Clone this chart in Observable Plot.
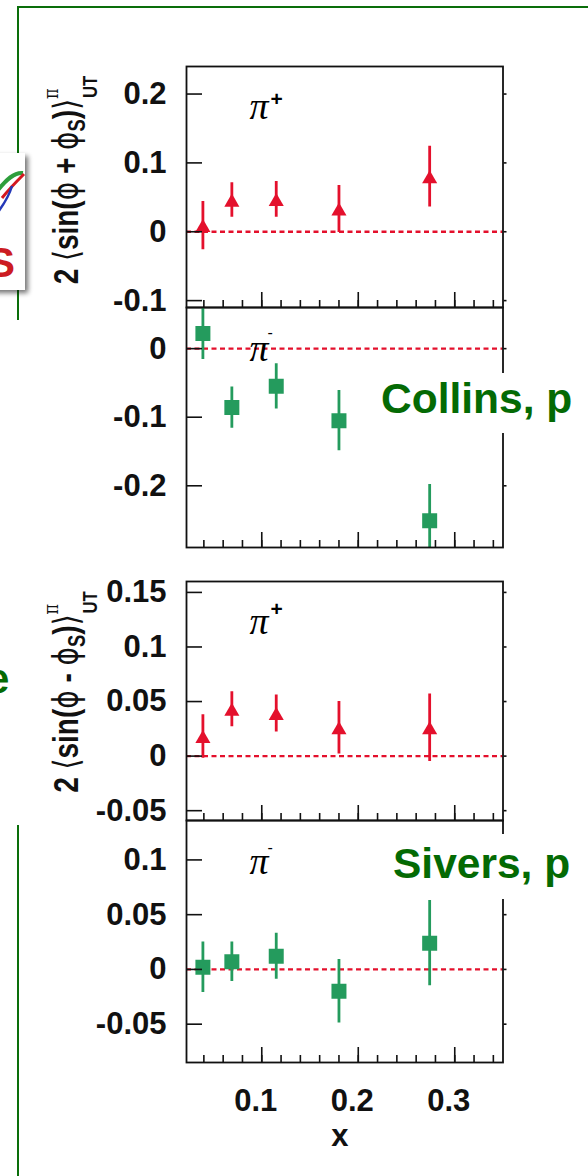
<!DOCTYPE html>
<html><head><meta charset="utf-8">
<script src="https://cdn.jsdelivr.net/npm/d3@7"></script>
<script src="https://cdn.jsdelivr.net/npm/@observablehq/plot@0.6"></script>
<style>
html,body{margin:0;padding:0;background:#fff;}
#page{position:relative;width:588px;height:1176px;overflow:hidden;background:#fff;}
.abs{position:absolute;left:0;}
</style></head><body><div id="page"></div>
<script>
// ---- data ----
const xBins = [0.039, 0.069, 0.115, 0.180, 0.274];
const collinsPiPlus = [0.009, 0.046, 0.047, 0.033, 0.080];
const collinsPiPlusErr = [0.035, 0.025, 0.026, 0.034, 0.044];
const collinsPiMinus = [0.022, -0.086, -0.055, -0.105, -0.251];
const collinsPiMinusErr = [0.038, 0.030, 0.033, 0.044, 0.053];
const siversPiPlus = [0.018, 0.043, 0.039, 0.026, 0.026];
const siversPiPlusErr = [0.020, 0.016, 0.017, 0.024, 0.031];
const siversPiMinus = [0.002, 0.007, 0.012, -0.020, 0.024];
const siversPiMinusErr = [0.023, 0.018, 0.021, 0.029, 0.039];

const xTickLabels = [0.1, 0.2, 0.3];
const xMinorTicks = [0.04, 0.06, 0.08, 0.1, 0.12, 0.14, 0.16, 0.18, 0.2, 0.22, 0.24, 0.26, 0.28, 0.3, 0.32, 0.34];
const yTicksCollinsPlus = [-0.1, 0, 0.1, 0.2];
const yTicksCollinsMinus = [-0.2, -0.1, 0];
const yTicksSiversPlus = [-0.05, 0, 0.05, 0.1, 0.15];
const yTicksSiversMinus = [-0.05, 0, 0.05, 0.1];
const particle = "π";
const charges = ["+", "-"];
const xTitle = "x";
const panelTitles = ["Collins, p", "Sivers, p"];

// ---- styles / layout ----
const RED = "#e4102c";
const GREEN = "#249b5d";
const DARKGREEN = "#046a04";
const INK = "#111";
const X0 = 186, X1 = 502.5, W = 588;

const page = document.getElementById("page");

function panel(cfg) {
  const data = xBins.map((x, i) => ({x, y: cfg.values[i], e: cfg.errs[i]}));
  const mt = 10, mb = cfg.mb;
  const fmt = d => d === 0 ? "0" : String(d);
  const marks = [
    Plot.ruleY([0], {stroke: RED, strokeWidth: 2.4, strokeDasharray: "5,3.5"}),
    Plot.ruleX(data, {x: "x", y1: d => d.y - d.e, y2: d => d.y + d.e, stroke: cfg.color, strokeWidth: 2.8, clip: true}),
    Plot.dot(data, {x: "x", y: "y", symbol: cfg.symbol, r: cfg.r, fill: cfg.color, stroke: "none", dy: cfg.dyMark, clip: true}),
    Plot.axisY({anchor: "left", label: null, ticks: cfg.yTicks, tickSize: -16, tickPadding: 36, tickFormat: fmt, strokeWidth: 1.6, color: INK}),
    Plot.axisY({anchor: "right", label: null, ticks: cfg.yTicks, tickSize: 3, tickFormat: () => "", strokeWidth: 1.6, color: INK}),
    Plot.axisX({anchor: "bottom", label: null, ticks: xMinorTicks, tickSize: -7, tickFormat: () => "", strokeWidth: 1.6, color: INK}),
    Plot.axisX({anchor: "bottom", label: null, ticks: xTickLabels, tickSize: -15, tickFormat: () => "", strokeWidth: 1.6, color: INK}),
    Plot.frame({stroke: INK, strokeWidth: 1.8}),
    Plot.text([particle], {text: d => d, frameAnchor: "top-left", textAnchor: "start", lineAnchor: "bottom", dx: 63, dy: cfg.piDy,
      fontFamily: "'Liberation Serif', serif", fontStyle: "italic", fontWeight: "normal", fontSize: 38, fill: "black"}),
    Plot.text([cfg.charge], {text: d => d, frameAnchor: "top-left", textAnchor: "start", lineAnchor: "bottom", dx: cfg.chDx, dy: cfg.chDy,
      fontWeight: cfg.charge === "+" ? "bold" : "normal", fontSize: cfg.charge === "+" ? 21 : 16, fill: "black"})
  ];
  if (cfg.showX) {
    marks.push(Plot.axisX({anchor: "bottom", label: null, ticks: xTickLabels, tickSize: 0, tickPadding: 26, dx: -6, tickFormat: d => String(d), color: INK}));
    marks.push(Plot.text([xTitle], {text: d => d, frameAnchor: "bottom", lineAnchor: "bottom", dx: -5, dy: 83, fontSize: 31, fontWeight: "bold", fill: INK}));
  }
  const svg = Plot.plot({
    width: W, height: mt + (cfg.fb - cfg.ft) + mb,
    marginLeft: X0, marginRight: W - X1, marginTop: mt, marginBottom: mb,
    x: {domain: [0.022, 0.35], axis: null},
    y: {domain: cfg.yDomain, axis: null},
    style: {fontFamily: "'Liberation Sans', Arial, sans-serif", fontSize: "31px", fontWeight: "bold", background: "none", overflow: "visible"},
    marks
  });
  const wrap = document.createElement("div");
  wrap.className = "abs";
  wrap.style.top = (cfg.ft - mt) + "px";
  wrap.appendChild(svg);
  page.appendChild(wrap);
}

panel({values: collinsPiPlus, errs: collinsPiPlusErr, ft: 66, fb: 307, mb: 10, yDomain: [-0.11, 0.24], yTicks: yTicksCollinsPlus,
  symbol: "triangle", r: 5.6, dyMark: 2.2, color: RED, charge: charges[0], piDy: 52, chDx: 84, chDy: 39});
panel({values: collinsPiMinus, errs: collinsPiMinusErr, ft: 307, fb: 547, mb: 10, yDomain: [-0.29, 0.06], yTicks: yTicksCollinsMinus,
  symbol: "square", r: 8.46, dyMark: 0, color: GREEN, charge: charges[1], piDy: 53, chDx: 81, chDy: 30});
panel({values: siversPiPlus, errs: siversPiPlusErr, ft: 581, fb: 820, mb: 10, yDomain: [-0.059, 0.16], yTicks: yTicksSiversPlus,
  symbol: "triangle", r: 5.6, dyMark: 2.2, color: RED, charge: charges[0], piDy: 52, chDx: 84, chDy: 34});
panel({values: siversPiMinus, errs: siversPiMinusErr, ft: 820, fb: 1062, mb: 110, yDomain: [-0.085, 0.136], yTicks: yTicksSiversMinus,
  symbol: "square", r: 8.46, dyMark: 0, color: GREEN, charge: charges[1], piDy: 53, chDx: 81, chDy: 32, showX: true});

// ---- overlay: slide decorations, axis titles, panel labels ----
const ns = "http://www.w3.org/2000/svg";
const ov = document.createElementNS(ns, "svg");
ov.setAttribute("width", W); ov.setAttribute("height", 1176);
ov.setAttribute("class", "abs"); ov.style.top = "0px";
const yTitle = (cy, op) => `
 <text transform="translate(78,${cy}) rotate(-90) scale(0.8,1)" text-anchor="middle" font-family="'Liberation Sans', Arial, sans-serif" font-weight="bold" font-size="35" fill="${INK}">2 <tspan font-family="'DejaVu Sans'" font-weight="normal">⟨</tspan>sin(<tspan font-family="'DejaVu Sans'" font-weight="normal">ϕ</tspan> ${op} <tspan font-family="'DejaVu Sans'" font-weight="normal">ϕ</tspan><tspan font-size="23" dy="7">S</tspan><tspan dy="-7">)</tspan><tspan font-family="'DejaVu Sans'" font-weight="normal">⟩</tspan><tspan font-family="'DejaVu Serif'" font-weight="normal" font-size="20" dy="-20">π</tspan><tspan font-size="21" dx="-12" dy="39">UT</tspan></text>`;
ov.innerHTML = `
 <defs><filter id="sh" x="-60%" y="-20%" width="220%" height="140%">
   <feGaussianBlur in="SourceAlpha" stdDeviation="2.5"/><feOffset dx="3" dy="3"/>
   <feComponentTransfer><feFuncA type="linear" slope="0.55"/></feComponentTransfer>
   <feMerge><feMergeNode/><feMergeNode in="SourceGraphic"/></feMerge></filter></defs>
 <path d="M18,320 V7 H588" fill="none" stroke="#0a6e0a" stroke-width="2"/>
 <path d="M18,825 V1176" fill="none" stroke="#0a6e0a" stroke-width="2"/>
 <rect x="-10" y="153" width="35" height="137" fill="#fff" filter="url(#sh)"/>
 <path d="M-2,190 C6,180 14,172 23,173" fill="none" stroke="#2e9e3c" stroke-width="4"/>
 <path d="M2,198 C10,188 18,180 24,174" fill="none" stroke="#d41820" stroke-width="3"/>
 <path d="M-2,212 C4,204 9,196 12,186" fill="none" stroke="#2438b8" stroke-width="2.5"/>
 <text x="-13" y="277" fill="#cc1c22" font-family="'Liberation Sans', Arial, sans-serif" font-weight="bold" font-size="42">S</text>
 <text x="-14" y="693" fill="${DARKGREEN}" font-family="'Liberation Sans', Arial, sans-serif" font-weight="bold" font-size="42">e</text>
 ${yTitle(180, "+")}
 ${yTitle(692, "-")}
 <rect x="376" y="373" width="206" height="60" fill="#fff"/>
 <text x="381" y="413" fill="${DARKGREEN}" font-family="'Liberation Sans', Arial, sans-serif" font-weight="bold" font-size="42.5">${panelTitles[0]}</text>
 <rect x="388" y="834" width="192" height="65" fill="#fff"/>
 <text x="393" y="878" fill="${DARKGREEN}" font-family="'Liberation Sans', Arial, sans-serif" font-weight="bold" font-size="42.5">${panelTitles[1]}</text>
`;
page.appendChild(ov);
</script></body></html>
